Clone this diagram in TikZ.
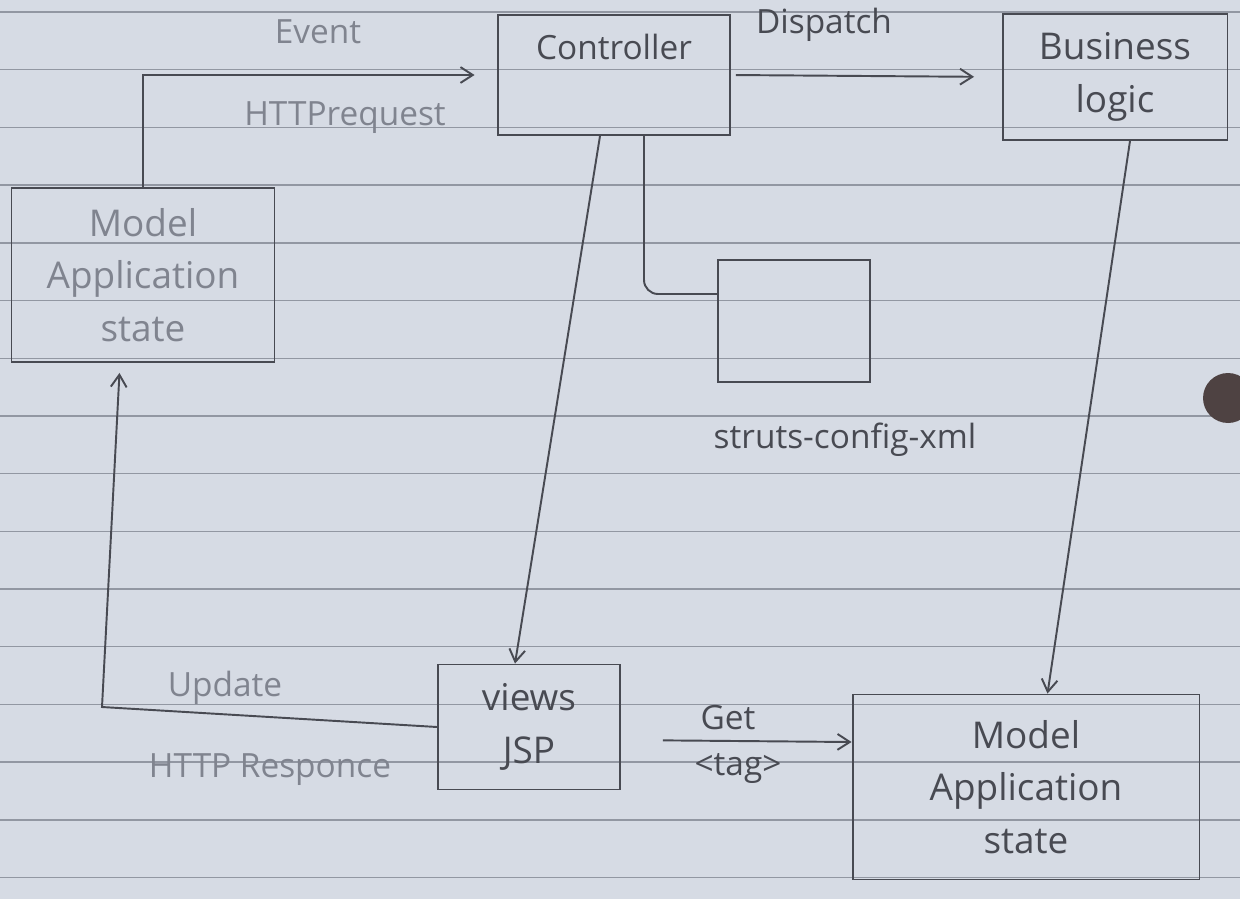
\documentclass[tikz,border=0pt]{standalone}
\usepackage{fontspec}
\setmainfont{Open Sans}
\usepackage{tikz}
\usetikzlibrary{positioning, arrows.meta}
\definecolor{papel}{RGB}{214,219,228}
\definecolor{lapiz}{RGB}{72,74,82}
\definecolor{lapizclaro}{RGB}{128,132,143}
\definecolor{renglon}{RGB}{146,151,162}
\definecolor{agujero}{RGB}{78,66,66}
\tikzset{
    caja/.style={rectangle, draw=lapiz, line width=1.1pt, inner sep=0pt, align=center, text=lapiz, font=\fontsize{21}{30}\selectfont},
    texto/.style={text=lapiz, inner sep=0pt, align=center, font=\fontsize{19}{26}\selectfont},
    texto_claro/.style={texto, text=lapizclaro},
    flecha/.style={draw=lapiz, line width=1.1pt, -{Straight Barb[length=7pt, width=9pt]}},
    linea/.style={draw=lapiz, line width=1.1pt}
}

\begin{document}
\begin{tikzpicture}[x=0.02cm, y=-0.02cm]

    % Fondo: hoja rayada
    \fill[papel] (0,0) rectangle (1240,899);
    \useasboundingbox (0,0) rectangle (1240,899);
    \foreach \k in {0,...,15}
        \draw[renglon, line width=0.8pt] (0,{12+57.7*\k}) -- (1240,{12+57.7*\k});
    \fill[agujero] (1228,398) circle (0.5cm);

    % 1. Fila superior
    \node[caja, minimum width=4.64cm, minimum height=2.4cm,
          label={[texto, anchor=north, yshift=-0.4cm, name=ctrl_txt]north:Controller}] (ctrl) at (614,75) {};
    \node[caja, minimum width=4.5cm, minimum height=2.52cm] (logica) at (1115,77) {Business\\logic};

    % 2. Modelo de la izquierda
    \node[caja, text=lapizclaro, minimum width=5.26cm, minimum height=3.48cm] (modelo_izq) at (143,275) {Model\\Application\\state};

    % 3. Caja de configuracion
    \node[caja, minimum width=3.04cm, minimum height=2.44cm] (struts) at (794,321) {};
    \node[texto] (struts_txt) at (845,440) {struts-config-xml};

    % 4. Fila inferior
    \node[caja, minimum width=3.64cm, minimum height=2.5cm] (vistas) at (529,727) {views\\JSP};
    \node[caja, minimum width=6.94cm, minimum height=3.7cm] (modelo_der) at (1026,787) {Model\\Application\\state};

    % Etiquetas de las flechas
    \node[texto_claro] (evento) at (318,32) {Event};
    \node[texto_claro] (http_req) at (345,118) {HTTPrequest};
    \node[texto] (despacho) at (824,25) {Dispatch};
    \node[texto_claro] (actualiza) at (225,688) {Update};
    \node[texto_claro] (http_resp) at (270,770) {HTTP Responce};
    \node[texto] (obtener) at (728,718) {Get};
    \node[texto] (etiqueta) at (738,768) {<tag>};

    % --- CONEXIONES ---

    % Peticion hacia el controlador
    \draw[flecha, shorten >=0.45cm] (modelo_izq.north) |- (ctrl.west);
    \draw[flecha, shorten <=0.1cm, shorten >=0.55cm] (ctrl.east) -- (logica.west);

    % Controlador hacia vistas y configuracion
    \draw[flecha] ([xshift=-0.28cm]ctrl.south) -- ([xshift=-0.28cm]vistas.north);
    \draw[linea, rounded corners=8pt] ([xshift=0.6cm]ctrl.south) |- ([yshift=0.54cm]struts.west);

    % Logica hacia el modelo
    \draw[flecha] ([xshift=0.3cm]logica.south) -- ([xshift=0.43cm]modelo_der.north);

    % Respuesta de vuelta al modelo de la izquierda
    \coordinate (esquina) at (102,707);
    \draw[flecha, shorten >=0.2cm] (vistas.west) -- (esquina) -- ([xshift=-0.46cm]modelo_izq.south);

    % Vistas leen el modelo
    \draw[flecha, shorten <=0.84cm] ([yshift=-0.26cm]vistas.east) -- ([yshift=0.9cm]modelo_der.west);

\end{tikzpicture}
\end{document}
